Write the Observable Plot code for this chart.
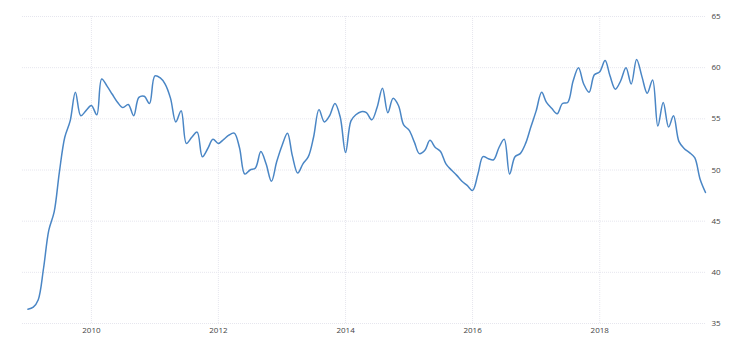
<!DOCTYPE html>
<html>
<head>
<meta charset="utf-8">
<script src="https://cdn.jsdelivr.net/npm/d3@7"></script>
<script src="https://cdn.jsdelivr.net/npm/@observablehq/plot@0.6"></script>
<style>
  html, body { margin: 0; padding: 0; background: #fff; }
  #chart svg { display: block; }
</style>
</head>
<body>
<div id="chart"></div>
<script>
// Monthly series, Jan 2009 – Sep 2019
const firstMonth = "2009-01-01";
const values = [
  36.4, 36.6, 37.3, 40.4, 44.1, 45.9, 49.8, 53.2, 54.8, 57.6, 55.3, 55.8,
  56.3, 55.4, 58.9, 58.2, 57.4, 56.6, 56.1, 56.4, 55.3, 57.1, 57.2, 56.5,
  59.2, 59.0, 58.4, 57.0, 54.7, 55.8, 52.6, 53.2, 53.7, 51.3, 52.1, 53.0,
  52.6, 53.0, 53.4, 53.6, 52.2, 49.6, 50.0, 50.2, 51.8, 50.6, 48.9, 50.8,
  52.4, 53.6, 51.4, 49.7, 50.6, 51.3, 53.2, 55.9, 54.7, 55.3, 56.5, 55.2,
  51.7, 54.8, 55.4, 55.7, 55.6, 54.9, 56.1, 58.0, 55.6, 57.0, 56.3, 54.4,
  53.9, 52.7, 51.6, 51.9, 52.9, 52.2, 51.8, 50.6, 50.0, 49.5, 48.9, 48.5,
  48.0, 49.6, 51.3, 51.1, 51.0, 52.2, 53.0, 49.6, 51.3, 51.6, 52.6, 54.2,
  55.8, 57.6, 56.6, 56.0, 55.5, 56.5, 56.6, 58.7, 60.0, 58.4, 57.6, 59.3,
  59.6, 60.7, 59.2, 57.9, 58.7, 60.0, 58.4, 60.8, 59.1, 57.5, 58.8, 54.3,
  56.6, 54.2, 55.3, 52.8, 52.1, 51.7, 51.2, 49.1, 47.8
];
const yTicks = [35, 40, 45, 50, 55, 60, 65];
const xTickYears = ["2010", "2012", "2014", "2016", "2018"];
const xDomain = ["2008-12-01", "2019-09-01"];

const start = new Date(firstMonth);
const data = values.map((v, i) => ({ date: d3.utcMonth.offset(start, i), value: v }));
const xTicks = xTickYears.map(y => new Date(y + "-01-01"));

const chart = Plot.plot({
  width: 756,
  height: 352,
  marginLeft: 22,
  marginRight: 51,
  marginTop: 16,
  marginBottom: 29,
  style: { fontFamily: "'Open Sans', 'DejaVu Sans', sans-serif", fontSize: "8px", color: "#333", background: "#fff" },
  x: { type: "utc", domain: xDomain.map(d => new Date(d)), ticks: xTicks, tickFormat: d3.utcFormat("%Y"), label: null },
  y: { domain: [35, 65], ticks: yTicks, label: null },
  marks: [
    Plot.gridY(yTicks, { stroke: "#e6e6ee", strokeOpacity: 1, strokeDasharray: "1,1" }),
    Plot.gridX(xTicks, { stroke: "#e6e6ee", strokeOpacity: 1, strokeDasharray: "1,1" }),
    Plot.axisY(yTicks, { anchor: "right", tickSize: 0, tickPadding: 6, fill: "#444", label: null }),
    Plot.axisX(xTicks, { anchor: "bottom", tickSize: 0, tickPadding: 4, tickFormat: d3.utcFormat("%Y"), fill: "#444", label: null }),
    Plot.line(data, { x: "date", y: "value", stroke: "#4a86c5", strokeWidth: 1.5, curve: "catmull-rom" })
  ]
});
document.getElementById("chart").appendChild(chart);
</script>
</body>
</html>
